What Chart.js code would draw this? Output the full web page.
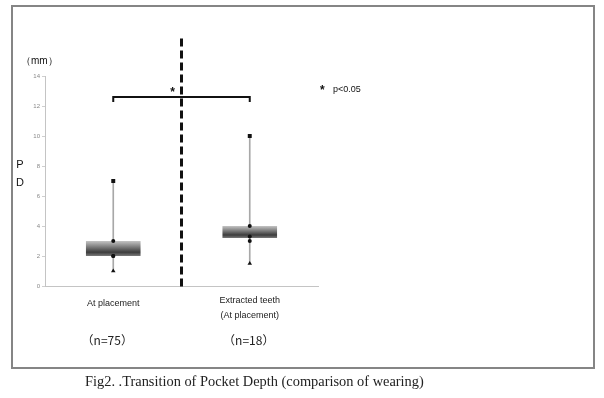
<!DOCTYPE html>
<html lang="en">
<head>
    <meta charset="UTF-8">
    <title>Transition of Pocket Depth</title>
    <script src="https://cdn.jsdelivr.net/npm/chart.js"></script>
    <style>
        body {
            margin: 0;
            background: #fff;
        }
        .wrap {
            position: relative;
            width: 604px;
            height: 398px;
        }
        .frame {
            position: absolute;
            left: 11px;
            top: 5px;
            width: 580px;
            height: 360px;
            border: 2px solid #858585;
            pointer-events: none;
        }
        .caption {
            position: absolute;
            left: 85px;
            top: 373px;
            font-family: 'Liberation Serif', serif;
            font-size: 14.4px;
            color: #222;
        }
        canvas {
            position: absolute;
            left: 0;
            top: 0;
        }
    </style>
</head>
<body>
<div class="wrap">
    <canvas id="pdChart" width="604" height="398"></canvas>
    <div class="frame"></div>
    <div class="caption">Fig2. .Transition of Pocket Depth (comparison of wearing)</div>
</div>

<script>
    // groups and their labels
    const categories = ['At placement', 'Extracted teeth'];
    const groupLabels = [['At placement'], ['Extracted teeth', '(At placement)']];
    const sizeLabels = ['（n=75）', '（n=18）'];

    // PD values (mm)
    const whiskerMin = [1, 1.5];
    const whiskerMax = [7, 10];
    const boxLow = [2, 3.2];
    const boxHigh = [3, 4];
    const upperDots = [3, 4];
    const middleDots = [2, 3.3];
    const lowerDots = [2, 3.0];

    const yTicksMax = 14;
    const bracketValue = 12.6;
    const dashTopValue = 16.5;
    const sigNote = 'p<0.05';

    const boxFill = (context) => {
        const chart = context.chart;
        const y = chart.scales.y;
        if (!chart.chartArea || !y) return '#777';
        const i = context.dataIndex;
        const top = y.getPixelForValue(boxHigh[i]);
        const bottom = y.getPixelForValue(boxLow[i]);
        const g = chart.ctx.createLinearGradient(0, top, 0, bottom);
        g.addColorStop(0, '#c4c4c4');
        g.addColorStop(0.75, '#3c3c3c');
        g.addColorStop(1, '#7a7a7a');
        return g;
    };

    const extras = {
        id: 'extras',
        afterDatasetsDraw(chart) {
            const ctx = chart.ctx;
            const x = chart.scales.x;
            const y = chart.scales.y;
            const area = chart.chartArea;
            const c0 = x.getPixelForValue(0);
            const c1 = x.getPixelForValue(1);
            const mid = (c0 + c1) / 2;

            ctx.save();
            // dashed divider between the groups
            ctx.strokeStyle = '#111';
            ctx.lineWidth = 3;
            ctx.setLineDash([8, 4]);
            ctx.beginPath();
            ctx.moveTo(mid, y.getPixelForValue(dashTopValue));
            ctx.lineTo(mid, area.bottom + 1);
            ctx.stroke();
            ctx.setLineDash([]);

            // significance bracket
            const by = y.getPixelForValue(bracketValue);
            ctx.lineWidth = 2;
            ctx.beginPath();
            ctx.moveTo(c0, by + 5);
            ctx.lineTo(c0, by);
            ctx.lineTo(c1, by);
            ctx.lineTo(c1, by + 5);
            ctx.stroke();

            ctx.fillStyle = '#111';
            ctx.textAlign = 'center';
            ctx.textBaseline = 'middle';
            ctx.font = 'bold 12px "Liberation Sans"';
            ctx.fillText('*', mid - 9, by - 4);

            // note at the right
            ctx.textAlign = 'left';
            ctx.fillText('*', area.right + 2, by - 6);
            ctx.font = '9px "Liberation Sans"';
            ctx.fillText(sigNote, area.right + 15, by - 7);

            // axis titles
            ctx.font = '10px "Liberation Sans"';
            ctx.fillText('（mm）', area.left - 24, area.top - 15);
            ctx.font = '11px "Liberation Sans"';
            ctx.textAlign = 'center';
            ctx.fillText('P', 20, y.getPixelForValue(8.1));
            ctx.fillText('D', 20, y.getPixelForValue(6.9));

            // group labels under the axis
            ctx.font = '9px "Liberation Sans"';
            ctx.fillStyle = '#222';
            groupLabels.forEach((lines, i) => {
                const cx = x.getPixelForValue(i);
                const startY = lines.length > 1 ? area.bottom + 15 : area.bottom + 18;
                lines.forEach((line, j) => {
                    ctx.fillText(line, cx, startY + j * 15);
                });
            });
            ctx.font = '12px "Noto Sans CJK JP"';
            sizeLabels.forEach((label, i) => {
                ctx.fillText(label, x.getPixelForValue(i) - (i === 0 ? 6 : 1), area.bottom + 54);
            });
            ctx.restore();
        }
    };

    const marker = (data, style, radius) => ({
        type: 'line',
        data: data,
        showLine: false,
        pointStyle: style,
        pointRadius: radius,
        pointBackgroundColor: '#111',
        pointBorderColor: '#111',
        pointBorderWidth: 0,
        order: 1
    });

    new Chart(document.getElementById('pdChart'), {
        type: 'bar',
        data: {
            labels: categories,
            datasets: [
                {
                    data: whiskerMin.map((v, i) => [v, whiskerMax[i]]),
                    backgroundColor: '#a8a8a8',
                    barThickness: 1,
                    grouped: false,
                    order: 3
                },
                {
                    data: boxLow.map((v, i) => [v, boxHigh[i]]),
                    backgroundColor: boxFill,
                    borderWidth: 0,
                    borderSkipped: false,
                    barPercentage: 0.4,
                    categoryPercentage: 1,
                    grouped: false,
                    order: 2
                },
                marker(whiskerMax, 'rect', 2.8),
                marker(whiskerMin, 'triangle', 2.6),
                marker(upperDots, 'circle', 2),
                marker(middleDots, 'circle', 2),
                marker(lowerDots, 'circle', 2)
            ]
        },
        options: {
            responsive: false,
            animation: false,
            layout: {
                padding: { left: 0, right: 286, top: 76, bottom: 112 }
            },
            plugins: {
                legend: { display: false },
                tooltip: { enabled: false }
            },
            scales: {
                x: {
                    offset: true,
                    ticks: { display: false },
                    grid: { display: false },
                    border: { color: '#c4c4c4', width: 1 },
                    afterFit: (s) => { s.height = 0; }
                },
                y: {
                    min: 0,
                    max: yTicksMax,
                    ticks: {
                        stepSize: 2,
                        padding: 2,
                        color: '#888',
                        font: { family: 'Liberation Sans', size: 6 }
                    },
                    grid: {
                        drawOnChartArea: false,
                        drawTicks: true,
                        tickLength: 3,
                        color: '#cfcfcf'
                    },
                    border: { color: '#c4c4c4', width: 1 },
                    afterFit: (s) => { s.width = 45; }
                }
            }
        },
        plugins: [extras]
    });
</script>
</body>
</html>
